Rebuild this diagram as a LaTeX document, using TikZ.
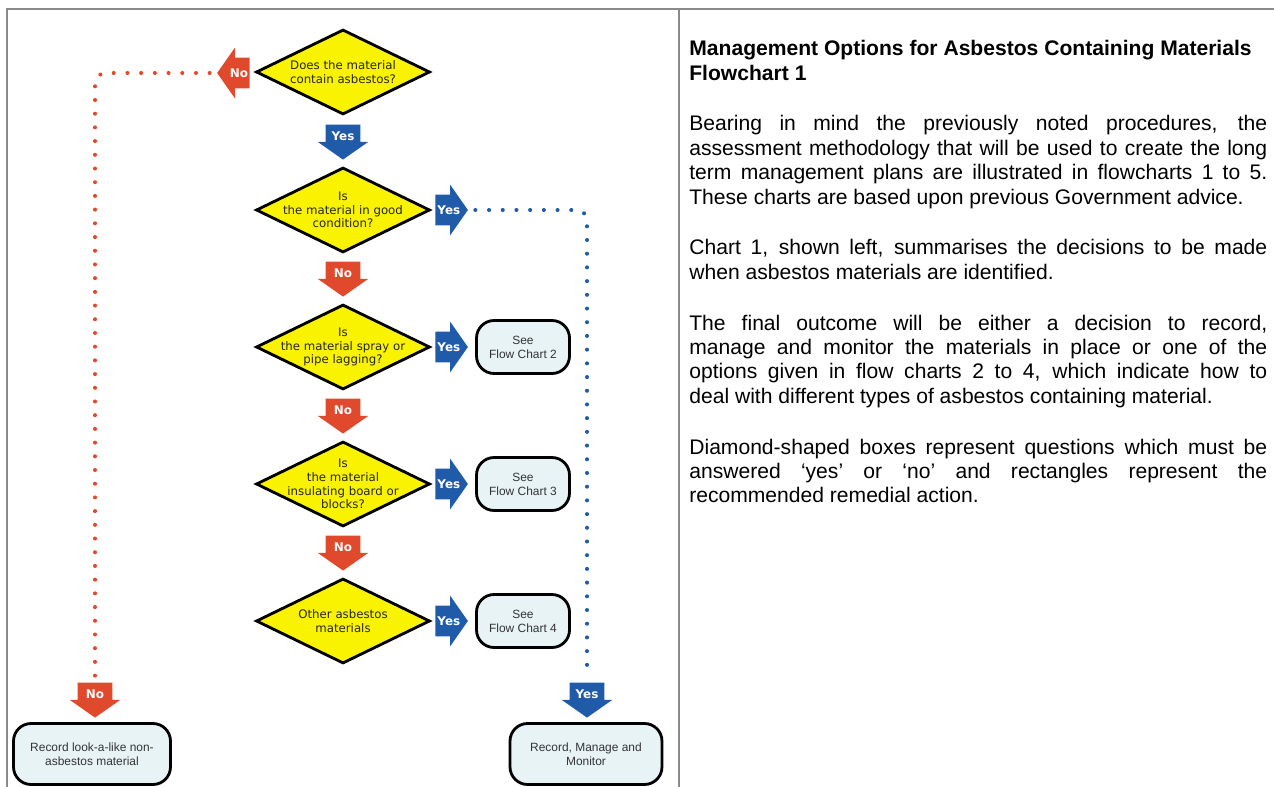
\documentclass[tikz,border=0pt]{standalone}
\usepackage{fontspec}
\setmainfont{Liberation Sans}
\newfontfamily\verdana{DejaVu Sans}
\usepackage{xcolor}
\usepackage{tikz}
\usetikzlibrary{shapes.geometric, shapes.arrows, arrows.meta, positioning}

\definecolor{qyellow}{HTML}{F9F200}
\definecolor{nored}{HTML}{E0492B}
\definecolor{yesblue}{HTML}{1F5BA8}
\definecolor{boxfill}{HTML}{E7F3F5}
\definecolor{framegray}{HTML}{8A8A8A}

\tikzset{
  question/.style={draw, diamond, line width=1.6pt, fill=qyellow, minimum width=3.48cm, minimum height=1.7cm, inner sep=0pt},
  qtext/.style={font=\verdana\fontsize{6.7}{7.8}\selectfont, align=center, text=black!85},
  action/.style={draw, rectangle, line width=1.6pt, rounded corners=10pt, fill=boxfill, align=center, text=black!80, font=\fontsize{6.8}{7.9}\selectfont},
  answer/.style={single arrow, single arrow tip angle=110, text=white, font=\verdana\bfseries\fontsize{6.8}{8}\selectfont},
  sidearrow/.style={answer, text width=10pt, align=left, inner xsep=1pt, inner ysep=6pt, single arrow head extend=0.2cm},
  downarrow/.style={answer, text width=14pt, align=center, shape border rotate=270, inner xsep=2.65pt, inner ysep=1pt, single arrow head extend=0.16cm, minimum height=0.7cm},
  dotline/.style={line width=2.3pt, line cap=round, dash pattern=on 0pt off 7.8pt, rounded corners=6pt}
}

\begin{document}
\begin{tikzpicture}[x=0.02cm, y=-0.02cm]
        \useasboundingbox (0,0) rectangle (1274,787);
        % frame
        \draw[framegray, line width=1.1pt] (7,787) -- (7,9) -- (1274,9);
        \draw[framegray, line width=1.1pt] (679,9) -- (679,787);

        % questions
        \node[question, label={[qtext]center:{Does the material\\contain asbestos?}}] (q1) at (343,72) {};
        \node[question, label={[qtext]center:{Is\\the material in good\\condition?}}] (q2) at (343,210) {};
        \node[question, label={[qtext]center:{Is\\the material spray or\\pipe lagging?}}] (q3) at (343,347) {};
        \node[question, label={[qtext]center:{Is\\the material\\insulating board or\\blocks?}}] (q4) at (343,484) {};
        \node[question, label={[qtext]center:{Other asbestos\\materials}}] (q5) at (343,621) {};

        % answers
        \node[sidearrow, fill=nored, shape border rotate=180, anchor=tail] (n1) at (250,73) {No};
        \node[downarrow, fill=yesblue, anchor=tip] (y1) at (343,160) {Yes};
        \node[sidearrow, fill=yesblue, anchor=tail] (y2) at (435,210) {Yes};
        \node[downarrow, fill=nored, anchor=tip] (n2) at (343,297) {No};
        \node[sidearrow, fill=yesblue, anchor=tail] (y3) at (435,347) {Yes};
        \node[downarrow, fill=nored, anchor=tip] (n3) at (343,434) {No};
        \node[sidearrow, fill=yesblue, anchor=tail] (y4) at (435,484) {Yes};
        \node[downarrow, fill=nored, anchor=tip] (n4) at (343,571) {No};
        \node[sidearrow, fill=yesblue, anchor=tail] (y5) at (435,621) {Yes};
        \node[downarrow, fill=nored, anchor=tip] (n5) at (95,718) {No};
        \node[downarrow, fill=yesblue, anchor=tip] (y6) at (587,718) {Yes};

        % actions
        \node[action, minimum width=1.86cm, minimum height=1.06cm] (s2) at (523,347) {See\\Flow Chart 2};
        \node[action, minimum width=1.86cm, minimum height=1.06cm] (s3) at (523,484) {See\\Flow Chart 3};
        \node[action, minimum width=1.86cm, minimum height=1.06cm] (s4) at (523,621) {See\\Flow Chart 4};
        \node[action, minimum width=3.14cm, minimum height=1.22cm] (r1) at (92,754) {Record look-a-like non-\\asbestos material};
        \node[action, minimum width=3.04cm, minimum height=1.22cm] (r2) at (586,754) {Record, Manage and\\Monitor};

        % dotted routes
        \draw[dotline, nored, shorten <=4pt, shorten >=3pt] (n1.tip) -| (n5.tail);
        \draw[dotline, yesblue, shorten <=4pt, shorten >=3pt] (y2.tip) -| (y6.tail);

        % notes
        \node[anchor=north west, inner sep=0pt, text width=11.56cm, align=justify, font=\fontsize{12}{13.9}\selectfont] (notes) at (689,40) {%
            \setlength{\parindent}{0pt}\setlength{\parskip}{15pt}%
            {\bfseries Management Options for Asbestos Containing Materials\newline Flowchart 1}\par
            Bearing in mind the previously noted procedures, the\linebreak
            assessment methodology that will be used to create the long\linebreak
            term management plans are illustrated in flowcharts 1 to 5.\linebreak
            These charts are based upon previous Government advice.\par
            Chart 1, shown left, summarises the decisions to be made\linebreak
            when asbestos materials are identified.\par
            The final outcome will be either a decision to record,\linebreak
            manage and monitor the materials in place or one of the\linebreak
            options given in flow charts 2 to 4, which indicate how to\linebreak
            deal with different types of asbestos containing material.\par
            Diamond-shaped boxes represent questions which must be\linebreak
            answered ‘yes’ or ‘no’ and rectangles represent the\linebreak
            recommended remedial action.
        };
    \end{tikzpicture}
\end{document}
